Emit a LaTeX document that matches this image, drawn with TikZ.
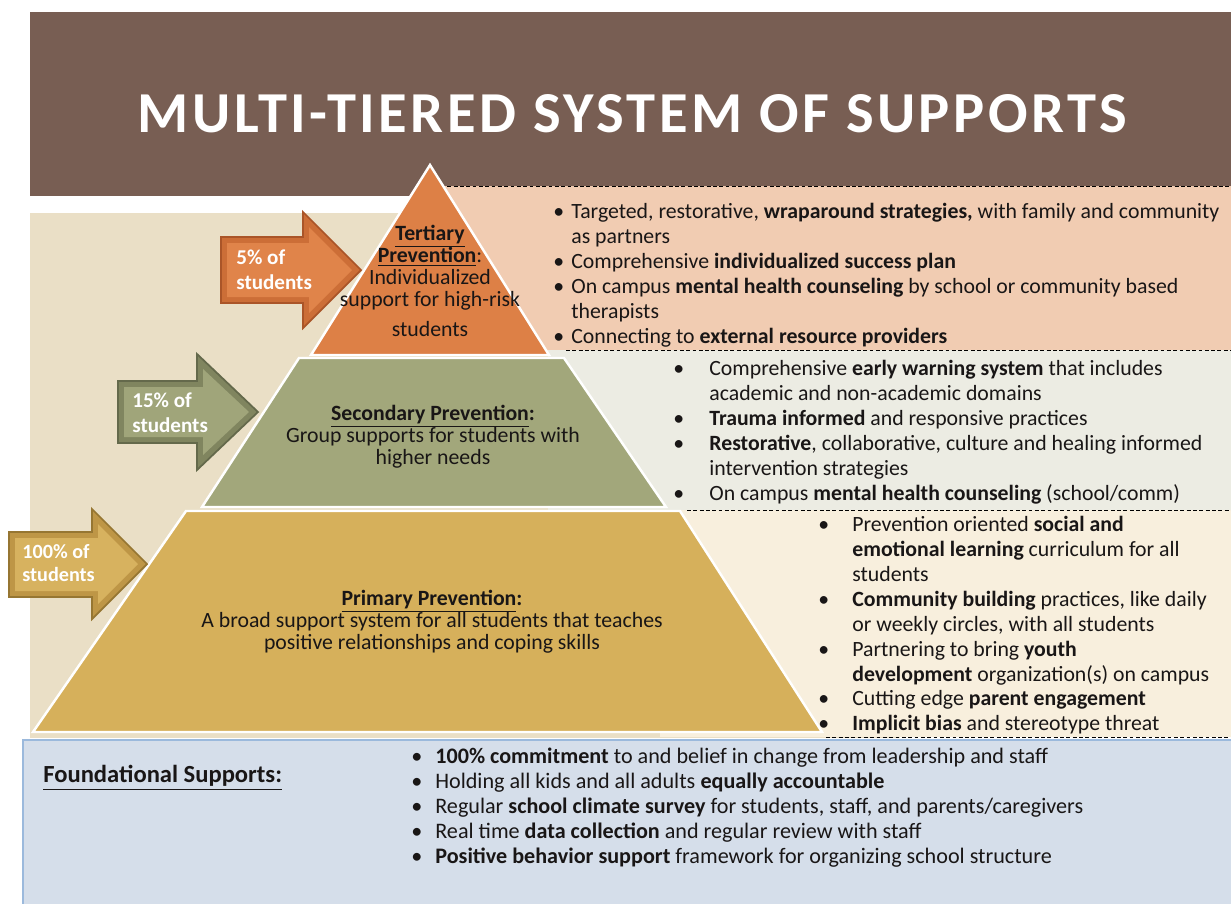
\documentclass[tikz,border=0pt]{standalone}
\usepackage{fontspec}
\setmainfont{Carlito}
\newfontfamily\titlefont{Carlito}[LetterSpace=6]
\usepackage{graphicx}
\usepackage{tikz}
\definecolor{bannerbrown}{RGB}{120, 94, 83}
\definecolor{panelbeige}{RGB}{234, 223, 198}
\definecolor{tierorange}{RGB}{221, 128, 70}
\definecolor{tertpeach}{RGB}{241, 204, 178}
\definecolor{tierolive}{RGB}{162, 167, 123}
\definecolor{secgrey}{RGB}{236, 236, 227}
\definecolor{tiergold}{RGB}{214, 176, 91}
\definecolor{primcream}{RGB}{248, 239, 221}
\definecolor{foundblue}{RGB}{213, 222, 234}
\definecolor{foundedge}{RGB}{155, 185, 220}
\definecolor{textdark}{RGB}{25, 22, 22}
\definecolor{arr5out}{RGB}{204, 110, 55}
\definecolor{arr5edge}{RGB}{170, 85, 40}
\definecolor{arr5in}{RGB}{224, 132, 74}
\definecolor{arr15out}{RGB}{128, 133, 95}
\definecolor{arr15edge}{RGB}{100, 105, 75}
\definecolor{arr15in}{RGB}{160, 165, 122}
\definecolor{arr100out}{RGB}{190, 150, 70}
\definecolor{arr100edge}{RGB}{150, 118, 50}
\definecolor{arr100in}{RGB}{215, 178, 95}

\begin{document}
\begin{tikzpicture}[x=0.02cm, y=-0.02cm,
  tier/.style={draw=white, line width=1.4pt},
  sepline/.style={draw=black, line width=0.5pt, dash pattern=on 2.2pt off 1.4pt},
  listtext/.style={anchor=north west, inner sep=0pt, text=textdark, font=\fontsize{12.4}{14.2}\selectfont},
  tierlabel/.style={anchor=north, inner sep=0pt, text=textdark, font=\fontsize{12.4}{12.2}\selectfont},
  pcttext/.style={anchor=north west, inner sep=0pt, text=white, font=\fontsize{12}{14.2}\selectfont\bfseries}]
  \useasboundingbox (0,0) rectangle (1231,903);
  \fill[white] (0,0) rectangle (1231,903);

  % title banner
  \fill[bannerbrown] (30,12) rectangle (1231,196);
  \node[inner sep=0pt, text=white] (title) at (632.5,114) {\resizebox{19.78cm}{0.76cm}{\titlefont\bfseries MULTI-TIERED SYSTEM OF SUPPORTS}};

  % backdrop and side panels
  \fill[panelbeige] (30,213) rectangle (900,738);
  \fill[tertpeach] (441,186) rectangle (1231,350);
  \fill[secgrey] (548,350) rectangle (1231,510);
  \fill[primcream] (660,510) rectangle (1231,737);
  \draw[sepline] (441,186) -- (1231,186);
  \draw[sepline] (566,350) -- (1231,350);
  \draw[sepline] (687,510) -- (1231,510);
  \draw[sepline] (826,737) -- (1231,737);

  % pyramid
  \filldraw[tier, fill=tierorange] (430,165) -- (549,355) -- (311,355) -- cycle;
  \filldraw[tier, fill=tierolive] (299,358) -- (564,358) -- (666,507) -- (202,507) -- cycle;
  \filldraw[tier, fill=tiergold] (186,511) -- (680,511) -- (822,732) -- (33,732) -- cycle;

  % share arrows
  \filldraw[fill=arr5out, draw=arr5edge, line width=1pt]
    (221,237) -- (303,237) -- (303,212) -- (361,270) -- (303,328) -- (303,303) -- (221,303) -- cycle;
  \fill[arr5in] (227,243) -- (309,243) -- (309,227) -- (352,270) -- (309,313) -- (309,297) -- (227,297) -- cycle;
  \filldraw[fill=arr15out, draw=arr15edge, line width=1pt]
    (118,381) -- (197,381) -- (197,354) -- (258,412) -- (197,470) -- (197,443) -- (118,443) -- cycle;
  \fill[arr15in] (124,387) -- (203,387) -- (203,369) -- (249,412) -- (203,455) -- (203,437) -- (124,437) -- cycle;
  \filldraw[fill=arr100out, draw=arr100edge, line width=1pt]
    (9,532) -- (92,532) -- (92,509) -- (147,564) -- (92,619) -- (92,597) -- (9,597) -- cycle;
  \fill[arr100in] (15,538) -- (98,538) -- (98,524) -- (138,564) -- (98,604) -- (98,591) -- (15,591) -- cycle;

  \node[pcttext] (pct5) at (236,246.5) {\begin{tabular}{@{}l@{}}5\% of\\ students\end{tabular}};
  \node[pcttext] (pct15) at (132,389.5) {\begin{tabular}{@{}l@{}}15\% of\\ students\end{tabular}};
  \node[pcttext, font=\fontsize{11.5}{13}\selectfont\bfseries] (pct100) at (22,542) {\begin{tabular}{@{}l@{}}100\% of\\ students\end{tabular}};

  % tier labels
  \node[tierlabel] (tertlabel) at (430,225) {\begin{tabular}{@{}c@{}}
    \textbf{\underline{Tertiary}}\\
    \textbf{\underline{Prevention}}:\\
    Individualized\\
    support for high-risk\\[0.18cm]
    students\end{tabular}};
  \node[tierlabel] (seclabel) at (433,405) {\begin{tabular}{@{}c@{}}
    \textbf{\underline{Secondary Prevention}:}\\
    Group supports for students with\\
    higher needs\end{tabular}};
  \node[tierlabel] (primlabel) at (432,590) {\begin{tabular}{@{}c@{}}
    \textbf{\underline{Primary Prevention}:}\\
    A broad support system for all students that teaches\\
    positive relationships and coping skills\end{tabular}};

  % tertiary list
  \node[listtext] (tertlist) at (553,200.5) {\begin{tabular}{@{}p{0.36cm}@{}l@{}}
    \textbullet & Targeted, restorative, \textbf{wraparound strategies,} with family and community\\
     & as partners\\
    \textbullet & Comprehensive \textbf{individualized success plan}\\
    \textbullet & On campus \textbf{mental health counseling} by school or community based\\
     & therapists\\
    \textbullet & Connecting to \textbf{external resource providers}
  \end{tabular}};

  % secondary list
  \node[listtext] (seclist) at (673,357.5) {\begin{tabular}{@{}p{0.72cm}@{}l@{}}
    \textbullet & Comprehensive \textbf{early warning system} that includes\\
     & academic and non-academic domains\\
    \textbullet & \textbf{Trauma informed} and responsive practices\\
    \textbullet & \textbf{Restorative}, collaborative, culture and healing informed\\
     & intervention strategies\\
    \textbullet & On campus \textbf{mental health counseling} (school/comm)
  \end{tabular}};

  % primary list
  \node[listtext] (primlist) at (818,513.5) {\begin{tabular}{@{}p{0.68cm}@{}l@{}}
    \textbullet & Prevention oriented \textbf{social and}\\
     & \textbf{emotional learning} curriculum for all\\
     & students\\
    \textbullet & \textbf{Community building} practices, like daily\\
     & or weekly circles, with all students\\
    \textbullet & Partnering to bring \textbf{youth}\\
     & \textbf{development} organization(s) on campus\\
    \textbullet & Cutting edge \textbf{parent engagement}\\
    \textbullet & \textbf{Implicit bias} and stereotype threat
  \end{tabular}};

  % foundational supports
  \filldraw[fill=foundblue, draw=foundedge, line width=0.8pt] (23,740) rectangle (1240,910);
  \node[anchor=west, inner sep=0pt, text=textdark, font=\fontsize{14}{16}\selectfont\bfseries] (foundhead) at (43,778) {\underline{Foundational Supports:}};
  \node[listtext, font=\fontsize{12.6}{14.2}\selectfont] (foundlist) at (411,745.5) {\begin{tabular}{@{}p{0.48cm}@{}l@{}}
    \textbullet & \textbf{100\% commitment} to and belief in change from leadership and staff\\
    \textbullet & Holding all kids and all adults \textbf{equally accountable}\\
    \textbullet & Regular \textbf{school climate survey} for students, staff, and parents/caregivers\\
    \textbullet & Real time \textbf{data collection} and regular review with staff\\
    \textbullet & \textbf{Positive behavior support} framework for organizing school structure
  \end{tabular}};
\end{tikzpicture}
\end{document}
